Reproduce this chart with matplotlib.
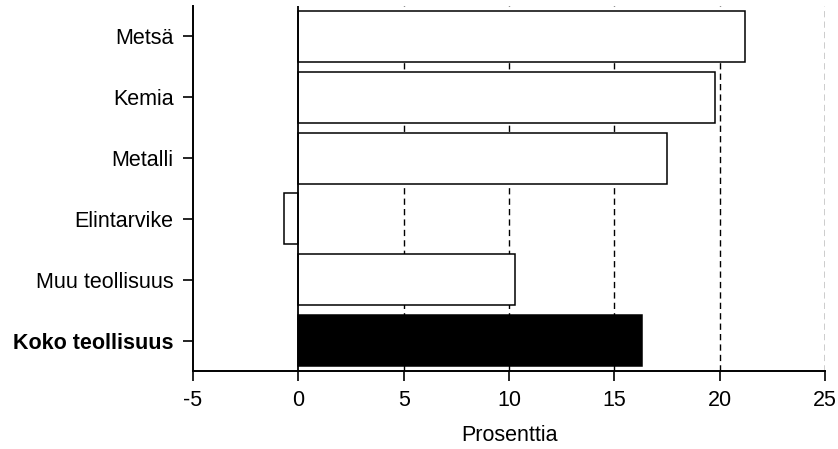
import matplotlib
matplotlib.use("Agg")
from matplotlib import pyplot as plt

# toimialat alhaalta ylös
toimialat = ["Koko teollisuus", "Muu teollisuus", "Elintarvike", "Metalli", "Kemia", "Metsä"]
arvot = [16.3, 10.3, -0.7, 17.5, 19.8, 21.2]
xticks = [-5, 0, 5, 10, 15, 20, 25]

plt.rcParams["font.family"] = ["Liberation Sans", "DejaVu Sans"]

fig = plt.figure(figsize=(8.38, 4.49), dpi=100)
ax = fig.add_axes([0.2303, 0.1737, 0.7542, 0.8129])

pos = list(range(len(toimialat)))
varit = ["black"] + ["white"] * (len(toimialat) - 1)
ax.barh(pos, arvot, height=0.84, color=varit, edgecolor="black", linewidth=1.1, zorder=3)

# katkoviivat
for x in xticks[2:]:
    ax.axvline(x, color="black", linewidth=1.0, dashes=(4.5, 3), zorder=1)
ax.axvline(0, color="black", linewidth=1.3, zorder=4)

ax.set_xlim(-5, 25)
ax.set_ylim(-0.5, 5.5)
ax.set_xticks(xticks)
ax.set_xticklabels([str(x) for x in xticks])
ax.set_yticks(pos)
ax.set_yticklabels(toimialat)
ax.get_yticklabels()[0].set_fontweight("bold")

ax.tick_params(axis="both", labelsize=15.5, length=7, width=1.2, pad=7)
ax.set_xlabel("Prosenttia", fontsize=15.5, labelpad=10)

ax.spines["top"].set_visible(False)
ax.spines["right"].set_visible(False)
ax.spines["left"].set_linewidth(1.4)
ax.spines["bottom"].set_linewidth(1.4)

fig.savefig("out.png", dpi=100)
